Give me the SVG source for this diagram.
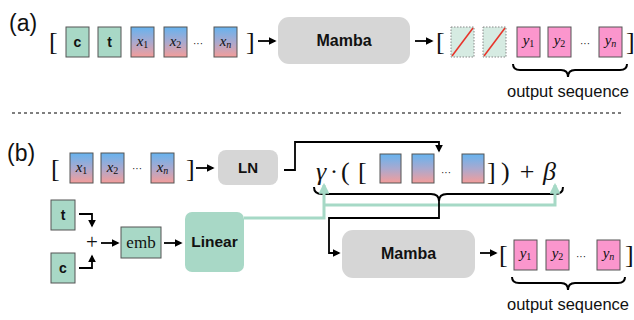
<svg xmlns="http://www.w3.org/2000/svg" width="634" height="320" viewBox="0 0 634 320">
  <defs>
    <linearGradient id="tok" x1="0" y1="0" x2="0" y2="1">
      <stop offset="0" stop-color="#66b3ef"/>
      <stop offset="0.5" stop-color="#a9a9cf"/>
      <stop offset="1" stop-color="#f49d9a"/>
    </linearGradient>
    <marker id="ah" viewBox="0 0 10 10" refX="8" refY="5" markerWidth="4.5" markerHeight="4.5" orient="auto-start-reverse" markerUnits="strokeWidth">
      <path d="M0,0 L10,5 L0,10 z" fill="#000"/>
    </marker>
    <marker id="ahT" viewBox="0 0 10 10" refX="8" refY="5" markerWidth="3.6" markerHeight="3.6" orient="auto" markerUnits="strokeWidth">
      <path d="M0,0 L10,5 L0,10 z" fill="#a6d9c6"/>
    </marker>
  </defs>
  <style>
    .lbl { font-family: "Liberation Sans", Arial, sans-serif; fill: #111; }
    .bold { font-weight: bold; }
    .ser { font-family: "Liberation Serif", "Times New Roman", serif; fill: #111; }
    .it { font-style: italic; }
    .brk { font-family: "Liberation Serif", "Times New Roman", serif; fill: #111; font-size: 26px; }
    .tok { fill: url(#tok); stroke: #555; stroke-width: 1; }
    .cond { fill: #a8d8c6; stroke: #555; stroke-width: 1; }
    .out { fill: #fb96cd; stroke: #555; stroke-width: 1; }
    .ghost { fill: #d6ebe2; stroke: #888; stroke-width: 1; stroke-dasharray: 1.5 1.5; }
    .gray { fill: #d6d6d6; }
    .wire { fill: none; stroke: #000; stroke-width: 1.8; }
    .twire { fill: none; stroke: #a6d9c6; stroke-width: 3; }
    .brace { fill: none; stroke: #000; stroke-width: 2; }
    .sym { font-size: 15px; }
    .sub { font-size: 10px; }
  </style>

  <!-- panel labels -->
  <text class="lbl" x="9" y="31" font-size="23">(a)</text>
  <text class="lbl" x="7" y="161" font-size="23">(b)</text>

  <!-- separator -->
  <line x1="12" y1="113" x2="622" y2="113" stroke="#555" stroke-width="1.5" stroke-dasharray="3 3"/>

  <!-- ===== (a) ===== -->
  <g id="a-input">
    <text class="brk" x="49" y="50">[</text>
    <rect class="cond" x="66" y="27" width="23" height="30"/>
    <text class="lbl bold" x="77.5" y="47" font-size="14" text-anchor="middle">c</text>
    <rect class="cond" x="98" y="27" width="23" height="30"/>
    <text class="lbl bold" x="109.5" y="47" font-size="14" text-anchor="middle">t</text>
    <rect class="tok" x="131" y="27" width="23" height="30"/>
    <text class="ser sym" x="142.5" y="46" text-anchor="middle"><tspan class="it">x</tspan><tspan class="sub" dy="2">1</tspan></text>
    <rect class="tok" x="164" y="27" width="23" height="30"/>
    <text class="ser sym" x="175.5" y="46" text-anchor="middle"><tspan class="it">x</tspan><tspan class="sub" dy="2">2</tspan></text>
    <text class="lbl" x="198" y="47" font-size="10" text-anchor="middle">···</text>
    <rect class="tok" x="214" y="27" width="23" height="30"/>
    <text class="ser sym" x="225.5" y="46" text-anchor="middle"><tspan class="it">x</tspan><tspan class="it sub" dy="2">n</tspan></text>
    <text class="brk" x="246" y="50">]</text>
  </g>

  <g id="a-mamba">
    <rect class="gray" x="278" y="17" width="132" height="47" rx="11"/>
    <text class="lbl bold" x="344" y="46" font-size="16" text-anchor="middle">Mamba</text>
  </g>

  <g id="a-output">
    <text class="brk" x="436" y="50">[</text>
    <rect class="ghost" x="451" y="27" width="23" height="30"/>
    <line x1="452" y1="56" x2="473" y2="28" stroke="#e8332a" stroke-width="1.5"/>
    <rect class="ghost" x="483" y="27" width="23" height="30"/>
    <line x1="484" y1="56" x2="505" y2="28" stroke="#e8332a" stroke-width="1.5"/>
    <rect class="out" x="517" y="27" width="23" height="30"/>
    <text class="ser sym" x="528.5" y="45" text-anchor="middle"><tspan class="it">y</tspan><tspan class="sub" dy="2">1</tspan></text>
    <rect class="out" x="548" y="27" width="23" height="30"/>
    <text class="ser sym" x="559.5" y="45" text-anchor="middle"><tspan class="it">y</tspan><tspan class="sub" dy="2">2</tspan></text>
    <text class="lbl" x="585" y="47" font-size="10" text-anchor="middle">···</text>
    <rect class="out" x="599" y="27" width="23" height="30"/>
    <text class="ser sym" x="610.5" y="45" text-anchor="middle"><tspan class="it">y</tspan><tspan class="it sub" dy="2">n</tspan></text>
    <text class="brk" x="626" y="50">]</text>
    <path class="brace" d="M513,64 Q513,70 520,70 L561,70 Q568,70 568,77 Q568,70 575,70 L620,70 Q627,70 627,64"/>
    <text class="lbl" x="568" y="97" font-size="16.5" text-anchor="middle">output sequence</text>
  </g>

  <!-- ===== (b) ===== -->
  <g id="b-input">
    <text class="brk" x="51" y="177">[</text>
    <rect class="tok" x="70" y="153" width="23" height="30"/>
    <text class="ser sym" x="81.5" y="172" text-anchor="middle"><tspan class="it">x</tspan><tspan class="sub" dy="2">1</tspan></text>
    <rect class="tok" x="101" y="153" width="23" height="30"/>
    <text class="ser sym" x="112.5" y="172" text-anchor="middle"><tspan class="it">x</tspan><tspan class="sub" dy="2">2</tspan></text>
    <text class="lbl" x="137" y="172" font-size="10" text-anchor="middle">···</text>
    <rect class="tok" x="151" y="153" width="23" height="30"/>
    <text class="ser sym" x="162.5" y="172" text-anchor="middle"><tspan class="it">x</tspan><tspan class="it sub" dy="2">n</tspan></text>
    <text class="brk" x="186" y="177">]</text>
  </g>

  <g id="b-ln">
    <rect class="gray" x="218" y="150" width="60" height="35" rx="8"/>
    <text class="lbl bold" x="248" y="173" font-size="15" text-anchor="middle">LN</text>
  </g>

  <g id="b-t">
    <rect class="cond" x="51" y="200" width="24" height="30"/>
    <text class="lbl bold" x="63" y="220" font-size="14" text-anchor="middle">t</text>
  </g>
  <g id="b-c">
    <rect class="cond" x="51" y="253" width="24" height="30"/>
    <text class="lbl bold" x="63" y="273" font-size="14" text-anchor="middle">c</text>
  </g>
  <g id="b-plus">
    <text class="ser" x="92" y="249" font-size="21" text-anchor="middle">+</text>
  </g>
  <g id="b-emb">
    <rect class="cond" x="121" y="227" width="40" height="31"/>
    <text class="ser" x="141" y="248" font-size="17" text-anchor="middle">emb</text>
  </g>
  <g id="b-linear">
    <rect x="185" y="212" width="59" height="60" rx="7" fill="#a8d8c6"/>
    <text class="lbl bold" x="214.5" y="247" font-size="15.5" text-anchor="middle">Linear</text>
  </g>

  <g id="b-formula">
    <text class="ser it" x="316" y="180" font-size="26">γ</text>
    <text class="ser" x="334" y="179" font-size="24" text-anchor="middle">·</text>
    <text class="ser" x="341" y="180" font-size="26">(</text>
    <text class="ser" x="358" y="180" font-size="26">[</text>
    <rect class="tok" x="380" y="154" width="21" height="29"/>
    <rect class="tok" x="412" y="154" width="22" height="29"/>
    <text class="lbl" x="446" y="176" font-size="10" text-anchor="middle">···</text>
    <rect class="tok" x="462" y="154" width="22" height="29"/>
    <text class="ser" x="487" y="180" font-size="26">]</text>
    <text class="ser" x="501" y="180" font-size="26">)</text>
    <text class="ser" x="527" y="180" font-size="26" text-anchor="middle">+</text>
    <text class="ser it" x="543" y="180" font-size="26">β</text>
    <path class="brace" d="M314,187 Q314,194 322,194 L431,194 Q439,194 439,201 Q439,194 447,194 L555,194 Q563,194 563,187"/>
  </g>

  <g id="b-mamba">
    <rect class="gray" x="342" y="230" width="133" height="48" rx="11"/>
    <text class="lbl bold" x="408.5" y="259" font-size="16" text-anchor="middle">Mamba</text>
  </g>

  <g id="b-output">
    <text class="brk" x="499" y="263">[</text>
    <rect class="out" x="514" y="240" width="23" height="30"/>
    <text class="ser sym" x="525.5" y="258" text-anchor="middle"><tspan class="it">y</tspan><tspan class="sub" dy="2">1</tspan></text>
    <rect class="out" x="546" y="240" width="23" height="30"/>
    <text class="ser sym" x="557.5" y="258" text-anchor="middle"><tspan class="it">y</tspan><tspan class="sub" dy="2">2</tspan></text>
    <text class="lbl" x="581" y="260" font-size="10" text-anchor="middle">···</text>
    <rect class="out" x="597" y="240" width="23" height="30"/>
    <text class="ser sym" x="608.5" y="258" text-anchor="middle"><tspan class="it">y</tspan><tspan class="it sub" dy="2">n</tspan></text>
    <text class="brk" x="625" y="263">]</text>
    <path class="brace" d="M512,277 Q512,283 519,283 L561,283 Q568,283 568,290 Q568,283 575,283 L618,283 Q625,283 625,277"/>
    <text class="lbl" x="568" y="310" font-size="16.5" text-anchor="middle">output sequence</text>
  </g>

  <!-- connectors -->
  <g id="connectors">
    <line class="wire" x1="258" y1="41" x2="275" y2="41" marker-end="url(#ah)"/>
    <line class="wire" x1="415" y1="41" x2="432" y2="41" marker-end="url(#ah)"/>

    <line class="wire" x1="196" y1="168" x2="213" y2="168" marker-end="url(#ah)"/>
    <polyline class="wire" points="284,170 295,170 295,142 439,142 439,151" marker-end="url(#ah)"/>

    <polyline class="wire" points="79,214 92,214 92,226" marker-end="url(#ah)"/>
    <polyline class="wire" points="79,268 92,268 92,256" marker-end="url(#ah)"/>
    <line class="wire" x1="101" y1="243" x2="118" y2="243" marker-end="url(#ah)"/>
    <line class="wire" x1="164" y1="243" x2="181" y2="243" marker-end="url(#ah)"/>

    <polyline class="twire" points="244,218 324,218 324,185" marker-end="url(#ahT)"/>
    <polyline class="twire" points="324,205 555,205 555,185" marker-end="url(#ahT)"/>

    <polyline class="wire" points="439,201 439,218 329,218 329,253 339,253" marker-end="url(#ah)"/>
    <line class="wire" x1="480" y1="253" x2="496" y2="253" marker-end="url(#ah)"/>
  </g>
</svg>
